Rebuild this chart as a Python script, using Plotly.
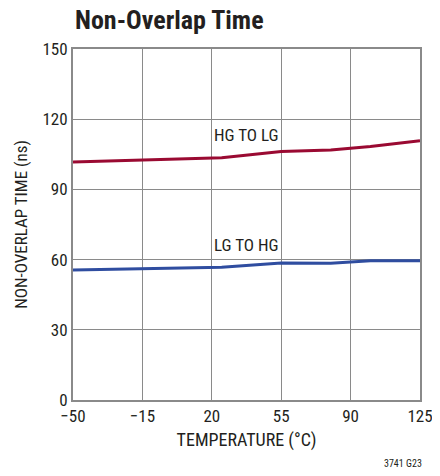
import plotly.graph_objects as go

# temperature (degC) and non-overlap times (ns)
temp = [-50, -15, 25, 55, 80, 100, 125]
hg_to_lg = [101.7, 102.4, 103.5, 106.2, 106.8, 108.3, 110.8]
lg_to_hg = [55.6, 56.0, 56.7, 58.6, 58.4, 59.5, 59.5]

x_ticks = [-50, -15, 20, 55, 90, 125]
x_tick_text = ["\u221250", "\u221215", "20", "55", "90", "125"]
y_ticks = [0, 30, 60, 90, 120, 150]

font = "Liberation Sans Narrow, Roboto Condensed, Arial Narrow, sans-serif"

fig = go.Figure()
fig.add_trace(go.Scatter(x=temp, y=hg_to_lg, mode="lines",
                         line=dict(color="#9a0a32", width=3)))
fig.add_trace(go.Scatter(x=temp, y=lg_to_hg, mode="lines",
                         line=dict(color="#2f4da0", width=3)))

# curve labels with white box
fig.add_annotation(x=37, y=113.2, text="HG TO LG", showarrow=False,
                   font=dict(size=17, color="#231f20", family=font),
                   bgcolor="white", borderpad=0)
fig.add_annotation(x=37, y=66.2, text="LG TO HG", showarrow=False,
                   font=dict(size=17, color="#231f20", family=font),
                   bgcolor="white", borderpad=0)

fig.add_annotation(xref="paper", yref="paper", x=-0.0, y=1.0, yshift=29,
                   xanchor="left", yanchor="middle", text="<b>Non-Overlap Time</b>",
                   showarrow=False, font=dict(size=26, color="#231f20", family=font))
fig.add_annotation(xref="paper", yref="paper", x=1.0, y=0, yshift=-63, xshift=4,
                   xanchor="right", yanchor="middle", text="3741 G23",
                   showarrow=False, font=dict(size=10, color="#231f20", family=font))

# page body has an 8px margin, so the figure is smaller and shifted
fig.update_layout(
    width=426, height=460,
    margin=dict(l=65, r=14, t=41, b=68),
    plot_bgcolor="white", paper_bgcolor="white",
    showlegend=False,
    font=dict(family=font, color="#231f20", size=17),
    xaxis=dict(range=[-50, 125], tickvals=x_ticks, ticktext=x_tick_text,
               ticklabeloverflow="allow",
               showgrid=True, gridcolor="#8a8a8a", gridwidth=1,
               showline=True, linecolor="#8a8a8a", linewidth=2, mirror=True,
               zeroline=False, ticks="", automargin=False,
               title=dict(text="TEMPERATURE (\u00b0C)", font=dict(size=18), standoff=8)),
    yaxis=dict(range=[0, 150], tickvals=y_ticks, automargin=False,
               showgrid=True, gridcolor="#8a8a8a", gridwidth=1,
               showline=True, linecolor="#8a8a8a", linewidth=2, mirror=True,
               zeroline=False, ticks="",
               title=dict(text="NON-OVERLAP TIME (ns)", font=dict(size=17), standoff=10)),
)

fig.write_html("out.html")
